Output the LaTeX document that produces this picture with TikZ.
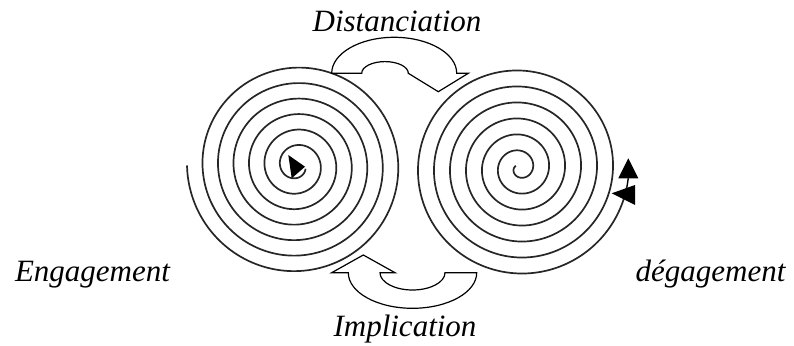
\documentclass[tikz,border=0pt]{standalone}
\usepackage{fontspec}
\setmainfont{Liberation Serif}
\usetikzlibrary{positioning}

\begin{document}
\begin{tikzpicture}[x=1pt, y=1pt, font=\fontsize{31}{36}\selectfont\itshape]
    \tikzstyle{spiral} = [line width=1.7pt, black!85, line join=round]
    \tikzstyle{bentarrow} = [draw=black, fill=white, line width=1.2pt, line join=miter]
    \tikzstyle{txt} = [inner sep=0pt, anchor=base]

    \useasboundingbox (0,0) rectangle (794,345);

    % Spirals
    \coordinate (lc) at (296.5,179.5);
    \coordinate (rc) at (519.5,177);
    \draw [spiral, shift={(lc)}] plot [smooth, domain=180:2500, samples=600] ({(109.5-0.043056*(\x-180))*cos(\x)}, {(109.5-0.043056*(\x-180))*sin(\x)});
    \draw [spiral, shift={(rc)}] plot [smooth, domain=150:2510, samples=600] ({(93.5+0.044444*(\x-2160))*cos(\x)}, {(93.5+0.044444*(\x-2160))*sin(\x)});
    \coordinate (rend) at (626.9,158.1);
    \coordinate (rtip) at (628.3,166.7);

    % Arrow heads
    \fill (288.3,190) -- (305,178.3) -- (291.7,166.7) -- cycle;
    \draw [line width=1.4pt] (rend) -- (rtip);
    \fill (618.3,166.7) -- (628.3,186.7) -- (638.3,166.7) -- cycle;
    \fill (611.7,151.7) -- (635,160) -- (635,140) -- cycle;

    % Bent arrows
    \draw [bentarrow] (331.7,271.7) arc [start angle=180, end angle=0, x radius=62.5, y radius=36]
        -- (468.3,271.7) -- (438.3,253.3) -- (408.3,271.7)
        arc [start angle=0, end angle=180, x radius=23.3, y radius=11.7] -- cycle;
    \draw [bentarrow] (331.7,72.3) -- (363.3,90) -- (395,72.3) -- (380,72.3)
        arc [start angle=180, end angle=360, x radius=32.5, y radius=17.3]
        -- (476.7,72.3) arc [start angle=0, end angle=-180, x radius=64.2, y radius=35.6] -- cycle;

    % Labels
    \node [txt] (dist) at (397,313) {Distanciation};
    \node [txt] (impl) at (405,8.5) {Implication};
    \node [txt] (eng) at (92.5,63.5) {Engagement};
    \node [txt] (deg) at (710.5,63.5) {dégagement};
\end{tikzpicture}
\end{document}
